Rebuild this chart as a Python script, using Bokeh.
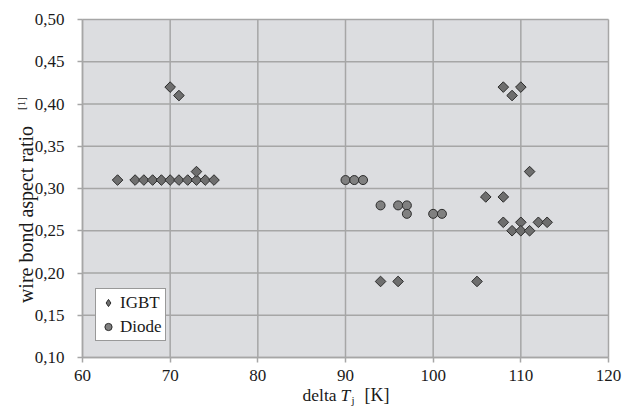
from math import pi
from bokeh.plotting import figure
from bokeh.models import (FixedTicker, Label, Legend, LegendItem, Range1d,
                          LinearAxis, BoxAnnotation)
from bokeh.embed import file_html
from bokeh.resources import INLINE

# ---- data ----
igbt_dT = [64, 66, 67, 68, 69, 70, 71, 72, 73, 74, 75, 73, 70, 71,
           94, 96, 105, 106, 108, 108, 109, 110, 111,
           108, 109, 110, 110, 111, 112, 113]
igbt_ratio = [0.31, 0.31, 0.31, 0.31, 0.31, 0.31, 0.31, 0.31, 0.31, 0.31, 0.31, 0.32, 0.42, 0.41,
              0.19, 0.19, 0.19, 0.29, 0.29, 0.42, 0.41, 0.42, 0.32,
              0.26, 0.25, 0.26, 0.25, 0.25, 0.26, 0.26]
diode_dT = [90, 91, 92, 94, 96, 97, 97, 100, 101]
diode_ratio = [0.31, 0.31, 0.31, 0.28, 0.28, 0.28, 0.27, 0.27, 0.27]

x_ticks = [60, 70, 80, 90, 100, 110, 120]
y_ticks = [0.10, 0.15, 0.20, 0.25, 0.30, 0.35, 0.40, 0.45, 0.50]
y_tick_labels = ["0,10", "0,15", "0,20", "0,25", "0,30", "0,35", "0,40", "0,45", "0,50"]
series_names = ["IGBT", "Diode"]

# ---- layout (pixels) ----
W, H = 622, 406
PL, PR, PT, PB = 82, 608, 19, 357          # plot-area edges on the page
xmin, xmax = x_ticks[0], x_ticks[-1]
ymin, ymax = y_ticks[0], y_ticks[-1]
kx = (PR - PL) / (xmax - xmin)
ky = (PB - PT) / (ymax - ymin)
x_range = Range1d(xmin - PL / kx, xmax + (W - PR) / kx)
y_range = Range1d(ymin - (H - PB) / ky, ymax + PT / ky)

FONT = "Liberation Serif"
TXT = "#1a1a1a"
GRID = "#a6a6a6"
BG = "#dcdde0"

p = figure(width=W, height=H, output_backend="svg", toolbar_location=None,
           x_range=x_range, y_range=y_range,
           x_axis_location=None, y_axis_location=None, min_border=0)
p.background_fill_color = "white"
p.border_fill_color = "white"
p.outline_line_color = None
p.grid.visible = False

# plot-area background
p.add_layout(BoxAnnotation(left=xmin, right=xmax, bottom=ymin, top=ymax,
                           fill_color=BG, fill_alpha=1, line_color=None, level="underlay"))

# grid lines
p.segment(x0=x_ticks, y0=[ymin] * len(x_ticks), x1=x_ticks, y1=[ymax] * len(x_ticks),
          line_color=GRID, line_width=1.5)
p.segment(x0=[xmin] * len(y_ticks), y0=y_ticks, x1=[xmax] * len(y_ticks), y1=y_ticks,
          line_color=GRID, line_width=1.5)

# axes at the plot-area edges
xaxis = LinearAxis(fixed_location=ymin, bounds=(xmin, xmax), ticker=FixedTicker(ticks=x_ticks))
yaxis = LinearAxis(fixed_location=xmin, bounds=(ymin, ymax), ticker=FixedTicker(ticks=y_ticks))
yaxis.major_label_overrides = {t: l for t, l in zip(y_ticks, y_tick_labels)}
for ax in (xaxis, yaxis):
    ax.axis_line_color = GRID
    ax.axis_line_width = 1.5
    ax.major_tick_line_color = GRID
    ax.major_tick_line_width = 1.5
    ax.major_tick_in = 0
    ax.major_tick_out = 5
    ax.minor_tick_line_color = None
    ax.major_label_text_font = FONT
    ax.major_label_text_font_size = "17px"
    ax.major_label_text_color = TXT
yaxis.major_label_standoff = 13
xaxis.major_label_standoff = 7
p.add_layout(xaxis, "below")
p.add_layout(yaxis, "left")

# legend proxy for the diamond symbol (tiny, hidden beneath the first IGBT marker)
r1_leg = p.scatter(x=igbt_dT[:1], y=igbt_ratio[:1], marker="diamond", size=1,
                   fill_color="#6e6e6e", line_color="#2b2b2b", line_width=1)
r1 = p.scatter(igbt_dT, igbt_ratio, marker="square", angle=pi / 4, size=7.5,
               fill_color="#6e6e6e", line_color="#2b2b2b", line_width=1)
r2 = p.scatter(diode_dT, diode_ratio, marker="circle", size=9,
               fill_color="#808080", line_color="#2b2b2b", line_width=1)

legend = Legend(items=[LegendItem(label=series_names[0], renderers=[r1_leg]),
                       LegendItem(label=series_names[1], renderers=[r2])],
                location=(95, H - 341), padding=3, spacing=3, margin=0,
                glyph_width=18, glyph_height=21, label_height=20, label_standoff=3,
                label_text_font=FONT, label_text_font_size="17px", label_text_color=TXT,
                border_line_color="#333333", border_line_width=1,
                background_fill_color="white", background_fill_alpha=1)
p.add_layout(legend)


def lab(text, x, y, size, style="normal", align="left", angle=0):
    """x, y in page pixels (y downward)."""
    p.add_layout(Label(x=x, y=H - y, x_units="screen", y_units="screen", text=text,
                       text_font=FONT, text_font_size=size, text_font_style=style,
                       text_color=TXT, text_align=align, text_baseline="middle",
                       angle=angle))


# x-axis title: delta T_j [K]
lab("delta", 302, 394, "17.5px")
lab("T", 340, 394, "17.5px", style="italic")
lab("j", 351, 399, "11px")
lab("[K]", 364, 394, "18px")

# y-axis title: wire bond aspect ratio [1]
lab("wire bond aspect ratio", 25, 214, "20px", align="center", angle=pi / 2)
lab("[1]", 20, 103, "11px", align="center", angle=pi / 2)

open("out.html", "w").write(file_html(p, INLINE))
